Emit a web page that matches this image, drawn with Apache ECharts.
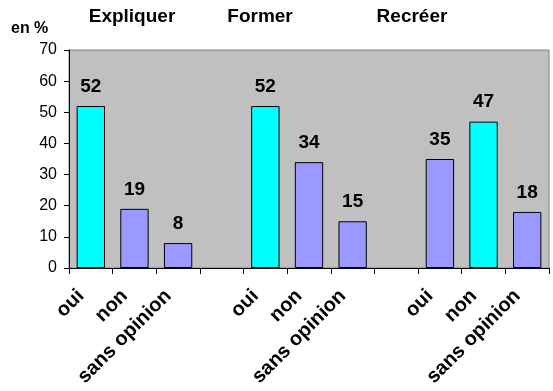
<!DOCTYPE html>
<html>
<head>
<meta charset="utf-8">
<script src="https://cdn.jsdelivr.net/npm/echarts@6/dist/echarts.min.js"></script>
<style>html,body{margin:0;padding:0;background:#fff}#c{width:553px;height:391px}</style>
</head>
<body>
<div id="c"></div>
<script>
var groupNames = ['Expliquer', 'Former', 'Recréer'];
var answers = ['oui', 'non', 'sans opinion'];
var expliquer = [52, 19, 8];
var former = [52, 34, 15];
var recreer = [35, 47, 18];
var yTicks = [0, 10, 20, 30, 40, 50, 60, 70];

var groups = [expliquer, former, recreer];
var categories = [];
var seriesData = [];
groups.forEach(function (g, gi) {
  var mx = Math.max.apply(null, g);
  g.forEach(function (v, i) {
    categories.push(answers[i]);
    seriesData.push({
      value: v,
      itemStyle: { color: v === mx ? '#00FFFF' : '#9999FF' }
    });
  });
  if (gi < groups.length - 1) {
    categories.push('');
    seriesData.push('-');
  }
});

var chart = echarts.init(document.getElementById('c'), null, { renderer: 'canvas' });
var titleX = [132, 260, 412];
var font = 'Liberation Sans, Arial, sans-serif';
chart.setOption({
  animation: false,
  backgroundColor: '#ffffff',
  grid: {
    left: 69, right: 4, top: 50, bottom: 123,
    show: true, backgroundColor: '#C0C0C0', borderColor: '#808080', borderWidth: 1
  },
  graphic: groupNames.map(function (n, i) {
    return {
      type: 'text', x: titleX[i], y: 7,
      style: { text: n, textAlign: 'center', font: 'bold 19px ' + font, fill: '#000' }
    };
  }).concat([{
    type: 'text', x: 11, y: 21,
    style: { text: 'en %', font: 'bold 16px ' + font, fill: '#000' }
  }]),
  xAxis: {
    type: 'category',
    data: categories,
    boundaryGap: true,
    axisLine: { lineStyle: { color: '#000', width: 1 } },
    axisTick: { show: true, length: 6, lineStyle: { color: '#000' }, alignWithLabel: false },
    axisLabel: {
      interval: 0, rotate: 45, margin: 15, padding: [0, 14, 0, 0],
      fontFamily: font, fontWeight: 'bold', fontSize: 20, color: '#000'
    },
    splitLine: { show: false }
  },
  yAxis: {
    type: 'value', min: 0, max: 70, interval: 10,
    axisLine: { show: true, lineStyle: { color: '#000', width: 1 } },
    axisTick: { show: true, length: 5, inside: false, lineStyle: { color: '#000' } },
    axisLabel: {
      margin: 12, fontFamily: font, fontSize: 16, color: '#000',
      formatter: function (v) { return yTicks.indexOf(v) >= 0 ? String(v) : ''; }
    },
    splitLine: { show: false }
  },
  series: [{
    type: 'bar',
    data: seriesData,
    barCategoryGap: '35%',
    itemStyle: { borderColor: '#000', borderWidth: 1 },
    label: {
      show: true, position: 'top', distance: 10,
      fontFamily: font, fontWeight: 'bold', fontSize: 19, color: '#000'
    }
  }]
});
</script>
</body>
</html>
